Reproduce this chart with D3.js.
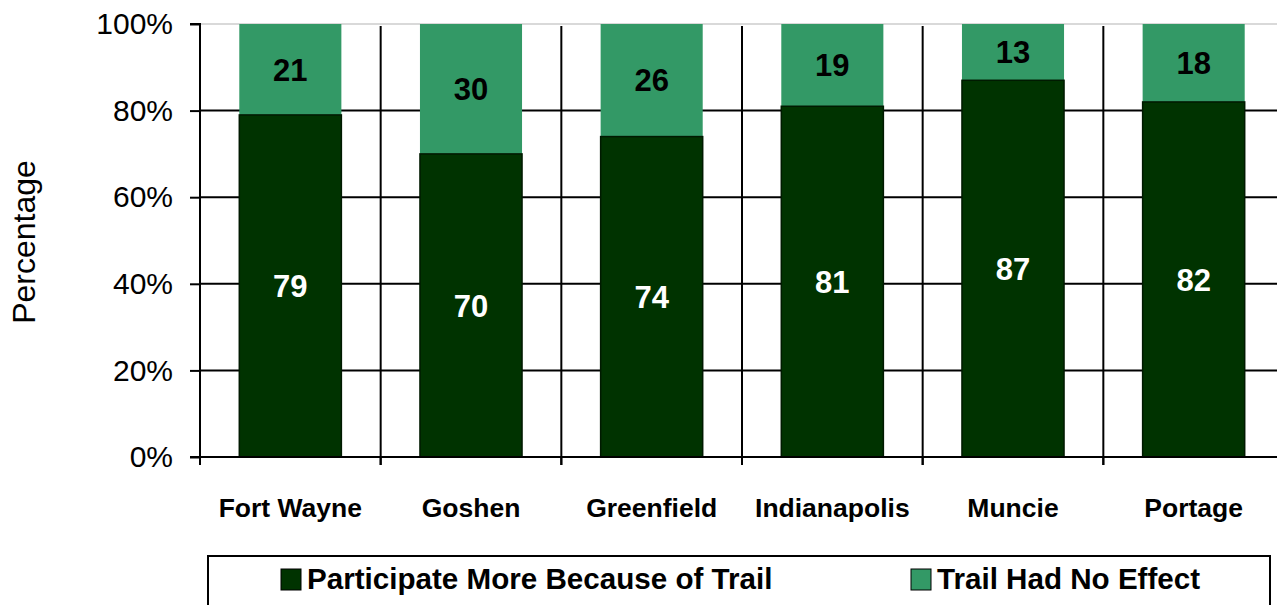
<!DOCTYPE html>
<html><head><meta charset="utf-8">
<script src="https://cdn.jsdelivr.net/npm/d3@7"></script>
<style>body{margin:0;background:#fff;} svg{display:block;font-family:"Liberation Sans",Arial,sans-serif;}</style>
</head><body>
<svg id="c" width="1277" height="605"></svg>
<script>
const categories = ["Fort Wayne","Goshen","Greenfield","Indianapolis","Muncie","Portage"];
const participateMore = [79,70,74,81,87,82];
const noEffect = [21,30,26,19,13,18];
const seriesNames = ["Participate More Because of Trail","Trail Had No Effect"];
const yTicks = [0,20,40,60,80,100];
const colors = ["#003300","#339966"];

const svg = d3.select("#c");
const mL = 200, mR = 1284, mT = 24, mB = 457;
const x = d3.scaleBand().domain(categories).range([mL, mR]).paddingInner(0).paddingOuter(0);
const y = d3.scaleLinear().domain([0,100]).range([mB, mT]);
const bw = x.bandwidth()*0.565;

svg.append("g").selectAll("line").data(yTicks.filter(d=>d>0)).join("line")
  .attr("x1", mL).attr("x2", 1277).attr("y1", d=>y(d)).attr("y2", d=>y(d))
  .attr("stroke", d=>d===100?"#cccccc":"#000").attr("stroke-width", d=>d===100?1.5:2);
svg.append("g").selectAll("line").data(categories.slice(1)).join("line")
  .attr("x1", d=>x(d)).attr("x2", d=>x(d)).attr("y1", y(100)+2).attr("y2", mB+8)
  .attr("stroke","#000").attr("stroke-width",2);

const data = categories.map((c,i)=>({c, a:participateMore[i], b:noEffect[i]}));
const cx = d=>x(d.c)+x.bandwidth()/2;
svg.append("g").selectAll("rect").data(data).join("rect")
  .attr("x", d=>cx(d)-bw/2).attr("width", bw)
  .attr("y", d=>y(d.a+d.b)).attr("height", d=>y(d.a)-y(d.a+d.b))
  .attr("fill", colors[1]);
svg.append("g").selectAll("rect").data(data).join("rect")
  .attr("x", d=>cx(d)-bw/2).attr("width", bw)
  .attr("y", d=>y(d.a)).attr("height", d=>y(0)-y(d.a))
  .attr("fill", colors[0]).attr("stroke","#001a00").attr("stroke-width",1.5);

svg.append("g").selectAll("text").data(data).join("text")
  .attr("x", cx).attr("y", d=>y(d.a/2)).attr("dy","0.36em")
  .attr("text-anchor","middle").attr("fill","#fff").attr("font-weight","bold").attr("font-size",31)
  .text(d=>d.a);
svg.append("g").selectAll("text").data(data).join("text")
  .attr("x", cx).attr("y", d=>y(d.a+d.b/2)).attr("dy","0.36em")
  .attr("text-anchor","middle").attr("fill","#000").attr("font-weight","bold").attr("font-size",31)
  .text(d=>d.b);

const ya = svg.append("g").attr("transform",`translate(${mL},0)`)
  .call(d3.axisLeft(y).tickValues(yTicks).tickFormat(d=>d+"%").tickSize(10).tickPadding(17));
ya.select(".domain").attr("stroke","#000").attr("stroke-width",2).attr("d",`M-10,${y(100)}H0V${mB}H-10`);
ya.selectAll(".tick line").attr("stroke","#000").attr("stroke-width",2);
ya.selectAll(".tick text").attr("font-size",30).attr("fill","#000").attr("font-family","Liberation Sans, Arial, sans-serif");

svg.append("line").attr("x1",mL).attr("x2",1277).attr("y1",mB).attr("y2",mB).attr("stroke","#000").attr("stroke-width",2);
svg.append("g").selectAll("line").data(categories).join("line")
  .attr("x1", d=>x(d)).attr("x2", d=>x(d)).attr("y1", mB).attr("y2", mB+8)
  .attr("stroke","#000").attr("stroke-width",2);
svg.append("g").selectAll("text").data(categories).join("text")
  .attr("x", d=>x(d)+x.bandwidth()/2).attr("y", 517)
  .attr("text-anchor","middle").attr("font-weight","bold").attr("font-size",26.5).attr("fill","#000")
  .text(d=>d);

svg.append("text").attr("transform","translate(35,242) rotate(-90)")
  .attr("text-anchor","middle").attr("font-size",32).attr("fill","#000").text("Percentage");

svg.append("rect").attr("x",208).attr("y",556).attr("width",1062).attr("height",60)
  .attr("fill","#fff").attr("stroke","#000").attr("stroke-width",2);
const lx = [281, 911];
const lg = svg.append("g").selectAll("g").data(seriesNames).join("g")
  .attr("transform",(d,i)=>`translate(${lx[i]},569)`);
lg.append("rect").attr("width",20).attr("height",21).attr("fill",(d,i)=>colors[i]).attr("stroke","#000").attr("stroke-width",1);
lg.append("text").attr("x",26).attr("y",20).attr("font-weight","bold").attr("font-size",29.6).attr("fill","#000").text(d=>d);
</script>
</body></html>
